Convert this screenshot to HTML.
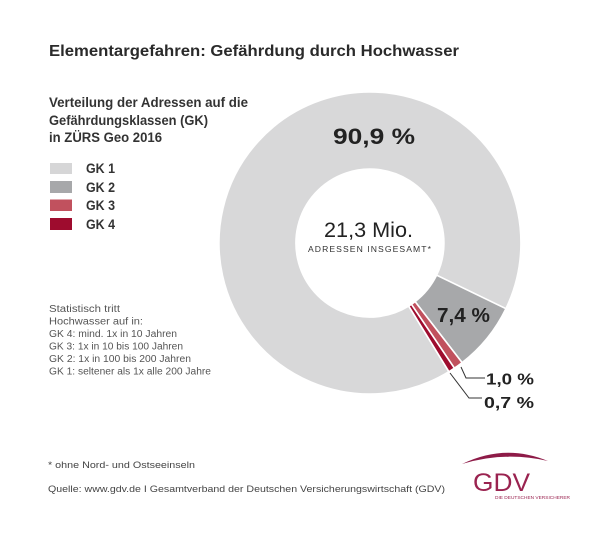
<!DOCTYPE html>
<html><head><meta charset="utf-8"><style>
html,body{margin:0;padding:0;background:#fff;}
svg{display:block;}
text{font-family:"Liberation Sans",sans-serif;}
</style></head><body>
<svg width="600" height="534" viewBox="0 0 600 534" xmlns="http://www.w3.org/2000/svg">
<rect width="600" height="534" fill="#fff"/>
<!-- Title -->
<text x="49" y="56" font-size="16" font-weight="bold" fill="#2a2a2a" textLength="410" lengthAdjust="spacingAndGlyphs">Elementargefahren: Gefährdung durch Hochwasser</text>
<!-- Subtitle -->
<text x="49" y="107" font-size="13.5" font-weight="bold" fill="#333" textLength="199" lengthAdjust="spacingAndGlyphs">Verteilung der Adressen auf die</text>
<text x="49" y="125" font-size="13.5" font-weight="bold" fill="#333" textLength="159" lengthAdjust="spacingAndGlyphs">Gefährdungsklassen (GK)</text>
<text x="49" y="142" font-size="13.5" font-weight="bold" fill="#333" textLength="113" lengthAdjust="spacingAndGlyphs">in ZÜRS Geo 2016</text>
<!-- Legend -->
<rect x="50" y="163" width="22" height="11" fill="#d6d6d7"/>
<rect x="50" y="181" width="22" height="12" fill="#a7a8aa"/>
<rect x="50" y="199.5" width="22" height="11.5" fill="#c1515e"/>
<rect x="50" y="218" width="22" height="12" fill="#9e0c2e"/>
<text x="86" y="173" font-size="13.5" font-weight="bold" fill="#333" textLength="29" lengthAdjust="spacingAndGlyphs">GK 1</text>
<text x="86" y="192" font-size="13.5" font-weight="bold" fill="#333" textLength="29" lengthAdjust="spacingAndGlyphs">GK 2</text>
<text x="86" y="210" font-size="13.5" font-weight="bold" fill="#333" textLength="29" lengthAdjust="spacingAndGlyphs">GK 3</text>
<text x="86" y="229" font-size="13.5" font-weight="bold" fill="#333" textLength="29" lengthAdjust="spacingAndGlyphs">GK 4</text>
<!-- Stats text -->
<g font-size="10" fill="#555">
<text x="49" y="312" textLength="71" lengthAdjust="spacingAndGlyphs">Statistisch tritt</text>
<text x="49" y="324.5" textLength="94" lengthAdjust="spacingAndGlyphs">Hochwasser auf in:</text>
<text x="49" y="337" textLength="128" lengthAdjust="spacingAndGlyphs">GK 4: mind. 1x in 10 Jahren</text>
<text x="49" y="349.5" textLength="134" lengthAdjust="spacingAndGlyphs">GK 3: 1x in 10 bis 100 Jahren</text>
<text x="49" y="362" textLength="142" lengthAdjust="spacingAndGlyphs">GK 2: 1x in 100 bis 200 Jahren</text>
<text x="49" y="374.5" textLength="162" lengthAdjust="spacingAndGlyphs">GK 1: seltener als 1x alle 200 Jahre</text>
</g>
<!-- Donut -->
<g stroke="#fff" stroke-width="1.6" stroke-linejoin="miter">
<path d="M448.9,371.7 A151,151 0 1 1 505.9,308.7 L436.6,275.2 A74,74 0 1 0 408.7,306.1 Z" fill="#d8d8d9"/>
<path d="M505.9,308.7 A151,151 0 0 1 462.1,362.6 L415.1,301.6 A74,74 0 0 0 436.6,275.2 Z" fill="#a7a8aa"/>
<path d="M462.1,362.6 A151,151 0 0 1 454.4,368.2 L411.4,304.3 A74,74 0 0 0 415.1,301.6 Z" fill="#c1515e"/>
<path d="M454.4,368.2 A151,151 0 0 1 448.9,371.7 L408.7,306.1 A74,74 0 0 0 411.4,304.3 Z" fill="#9e0c2e"/>
</g>
<!-- Donut labels -->
<text x="374" y="144" font-size="22.5" font-weight="bold" fill="#222" text-anchor="middle" textLength="82" lengthAdjust="spacingAndGlyphs">90,9 %</text>
<text x="368.5" y="237" font-size="21" fill="#222" text-anchor="middle" textLength="89" lengthAdjust="spacingAndGlyphs">21,3 Mio.</text>
<text x="370" y="252" font-size="8" fill="#333" text-anchor="middle" textLength="124" lengthAdjust="spacingAndGlyphs" letter-spacing="1">ADRESSEN INSGESAMT*</text>
<text x="463.5" y="322" font-size="20" font-weight="bold" fill="#222" text-anchor="middle" textLength="53" lengthAdjust="spacingAndGlyphs">7,4 %</text>
<!-- Leader lines -->
<polyline points="461,367 466,378 485,378" fill="none" stroke="#333" stroke-width="1"/>
<polyline points="450,373 469,398 482,398" fill="none" stroke="#333" stroke-width="1"/>
<text x="486" y="384.5" font-size="16" font-weight="bold" fill="#222" textLength="48" lengthAdjust="spacingAndGlyphs">1,0 %</text>
<text x="484" y="408" font-size="16" font-weight="bold" fill="#222" textLength="50" lengthAdjust="spacingAndGlyphs">0,7 %</text>
<!-- Footer -->
<text x="48" y="468" font-size="9.5" fill="#444" textLength="147" lengthAdjust="spacingAndGlyphs">* ohne Nord- und Ostseeinseln</text>
<text x="48" y="492" font-size="9.5" fill="#444" textLength="397" lengthAdjust="spacingAndGlyphs">Quelle: www.gdv.de I Gesamtverband der Deutschen Versicherungswirtschaft (GDV)</text>
<!-- Logo -->
<path d="M462,464 Q505,443 548,461 Q505,451 462,464 Z" fill="#8e1b48"/>
<text x="473" y="491" font-size="25" fill="#9a2350" textLength="57" lengthAdjust="spacingAndGlyphs">GDV</text>
<text x="495" y="499" font-size="4.5" fill="#9a2350" textLength="75" lengthAdjust="spacingAndGlyphs">DIE DEUTSCHEN VERSICHERER</text>
</svg>
</body></html>
